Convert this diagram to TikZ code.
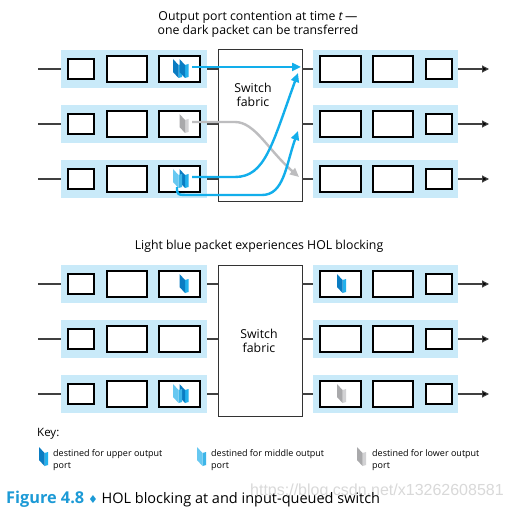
\documentclass[tikz,border=0pt]{standalone}
\usepackage{fontspec}
\setmainfont{Open Sans}
\newfontfamily\symfont{DejaVu Sans}
\newfontfamily\markfont{Liberation Sans}
\usetikzlibrary{arrows.meta}

\definecolor{band}{HTML}{C9EAF9}
\definecolor{flow}{HTML}{12AEEB}
\definecolor{grayflow}{HTML}{BDBDBF}
\definecolor{upperfront}{HTML}{0A7CC2}
\definecolor{upperside}{HTML}{22B0EC}
\definecolor{midfront}{HTML}{67C8F1}
\definecolor{midside}{HTML}{3DB5E8}
\definecolor{lowfront}{HTML}{A9A9AB}
\definecolor{lowside}{HTML}{D2D2D4}
\definecolor{figblue}{HTML}{1C9AD6}

\begin{document}
\begin{tikzpicture}[x=1pt,y=-1pt]
\tikzset{
  portband/.style={fill=band,draw=none,minimum width=146pt,minimum height=38pt,inner sep=0},
  qbox/.style={draw=black,line width=1.1pt,fill=white,inner sep=0,minimum height=26pt,minimum width=41pt},
  smallbox/.style={qbox,minimum height=20pt,minimum width=26pt},
  fabric/.style={draw=black!80,line width=0.9pt,fill=white,minimum width=84pt,inner sep=0},
  link/.style={draw=black!75,line width=1.1pt},
  flowline/.style={draw=flow,line width=2.4pt,-{Triangle[length=9pt,width=8pt]}},
  lbl/.style={font=\fontsize{12.3}{14}\selectfont,align=center,inner sep=0},
  keytext/.style={font=\fontsize{9}{12}\selectfont,align=left,anchor=north west,inner sep=0},
  pics/pkt/.style 2 args={code={
    \fill[#2] (5.5,6) -- (9,5) -- (9,18) -- (5.5,19) -- cycle;
    \fill[#1] (0,0) -- (5.5,6) -- (5.5,19) -- (0,13) -- cycle;
  }},
}
\path[use as bounding box,fill=white] (0,0) rectangle (509,510);

% switch fabrics
\node[fabric,minimum height=152pt] (swt) at (260,125) {};
\node[fabric,minimum height=151pt] (swb) at (260,340.5) {};

% ports - top (t) and bottom (b) picture
\foreach \s/\off in {t/0,b/215}{
  \foreach \r/\c in {1/69,2/124,3/179}{
    \node[portband] (in\s\r) at (134,\c+\off) {};
    \node[portband,minimum width=145pt] (out\s\r) at (385.5,\c+\off) {};
    \node[smallbox] (in\s\r-a) at (81,\c+\off) {};
    \node[qbox,minimum width=40pt] (in\s\r-b) at (127,\c+\off) {};
    \node[qbox] (in\s\r-c) at (179.5,\c+\off) {};
    \node[qbox] (out\s\r-a) at (340.5,\c+\off) {};
    \node[qbox,minimum width=40pt] (out\s\r-b) at (393,\c+\off) {};
    \node[smallbox] (out\s\r-c) at (439,\c+\off) {};
    \coordinate (src\s\r) at (38,\c+\off);
    \coordinate (dst\s\r) at (489,\c+\off);
    \draw[link] (src\s\r) -- (in\s\r.west);
    \draw[link] (in\s\r.east) -- (in\s\r.east -| sw\s.west);
    \draw[link] (out\s\r.west -| sw\s.east) -- (out\s\r.west);
    \draw[link,-{Triangle[length=7pt,width=7pt,fill=black]}] (out\s\r.east) -- (dst\s\r);
  }
}

% packets at time t
\pic at (173,59) {pkt={upperfront}{upperside}};
\pic at (179.5,59) {pkt={upperfront}{upperside}};
\pic at (179.5,114) {pkt={lowfront}{lowside}};
\pic at (179.5,169) {pkt={upperfront}{upperside}};
\pic at (173,169) {pkt={midfront}{midside}};

% packets after the transfer
\pic at (179.5,274) {pkt={upperfront}{upperside}};
\pic at (179.5,384) {pkt={upperfront}{upperside}};
\pic at (173,384) {pkt={midfront}{midside}};
\pic at (337,274) {pkt={upperfront}{upperside}};
\pic at (337,384) {pkt={lowfront}{lowside}};

% contention
\coordinate (hol1) at (192,67);
\coordinate (tip1) at (301,67);
\coordinate (hol2) at (192,122);
\coordinate (tip2) at (299,177);
\coordinate (hol3) at (192,177);
\coordinate (tip3) at (298,73);
\coordinate (hol3b) at (177,187);
\coordinate (tip3b) at (298,131);

\draw[flowline,draw=grayflow,-{Triangle[length=9pt,width=8pt,fill=grayflow]}] (hol2) -- (235,122) .. controls (255,122) and (268,150) .. (tip2);
\draw[flowline] (hol1) -- (tip1);
\draw[flowline] (hol3) -- (235,177) .. controls (265,177) and (272,145) .. (tip3);
\draw[flowline] (hol3b) .. controls (177,195) .. (190,195) -- (262,195) .. controls (284,195) and (286,165) .. (tip3b);

% texts
\node[lbl] (title1) at (258,24) {Output port contention at time \textit{t}\,—\\one dark packet can be transferred};
\node[lbl] (fabtxt1) at (253,95) {Switch\\fabric};
\node[lbl] (title2) at (259,246) {Light blue packet experiences HOL blocking};
\node[lbl] (fabtxt2) at (259,341) {Switch\\fabric};

% key
\node[lbl,anchor=west,font=\fontsize{11.5}{14}\selectfont] (key) at (37,434) {Key:};
\pic at (39,447) {pkt={upperfront}{upperside}};
\node[keytext] (keyup) at (53,449) {destined for upper output\\port};
\pic at (197,447) {pkt={midfront}{midside}};
\node[keytext] (keymid) at (211,449) {destined for middle output\\port};
\pic at (357,447) {pkt={lowfront}{lowside}};
\node[keytext] (keylow) at (372,449) {destined for lower output\\port};

\node[anchor=west,text=black!15,font=\markfont\fontsize{16}{16}\selectfont,inner sep=0] (mark) at (250,491) {https://blog.csdn.net/x13262608581};
\node[anchor=west,font=\fontsize{14.5}{16}\selectfont,inner sep=0] (caption) at (6,499) {\textcolor{figblue}{\fontsize{16.3}{16}\selectfont\bfseries Figure 4.8}\ {\symfont\fontsize{11}{11}\selectfont\textcolor{figblue}{♦}}\ HOL blocking at and input-queued switch};
\end{tikzpicture}
\end{document}
